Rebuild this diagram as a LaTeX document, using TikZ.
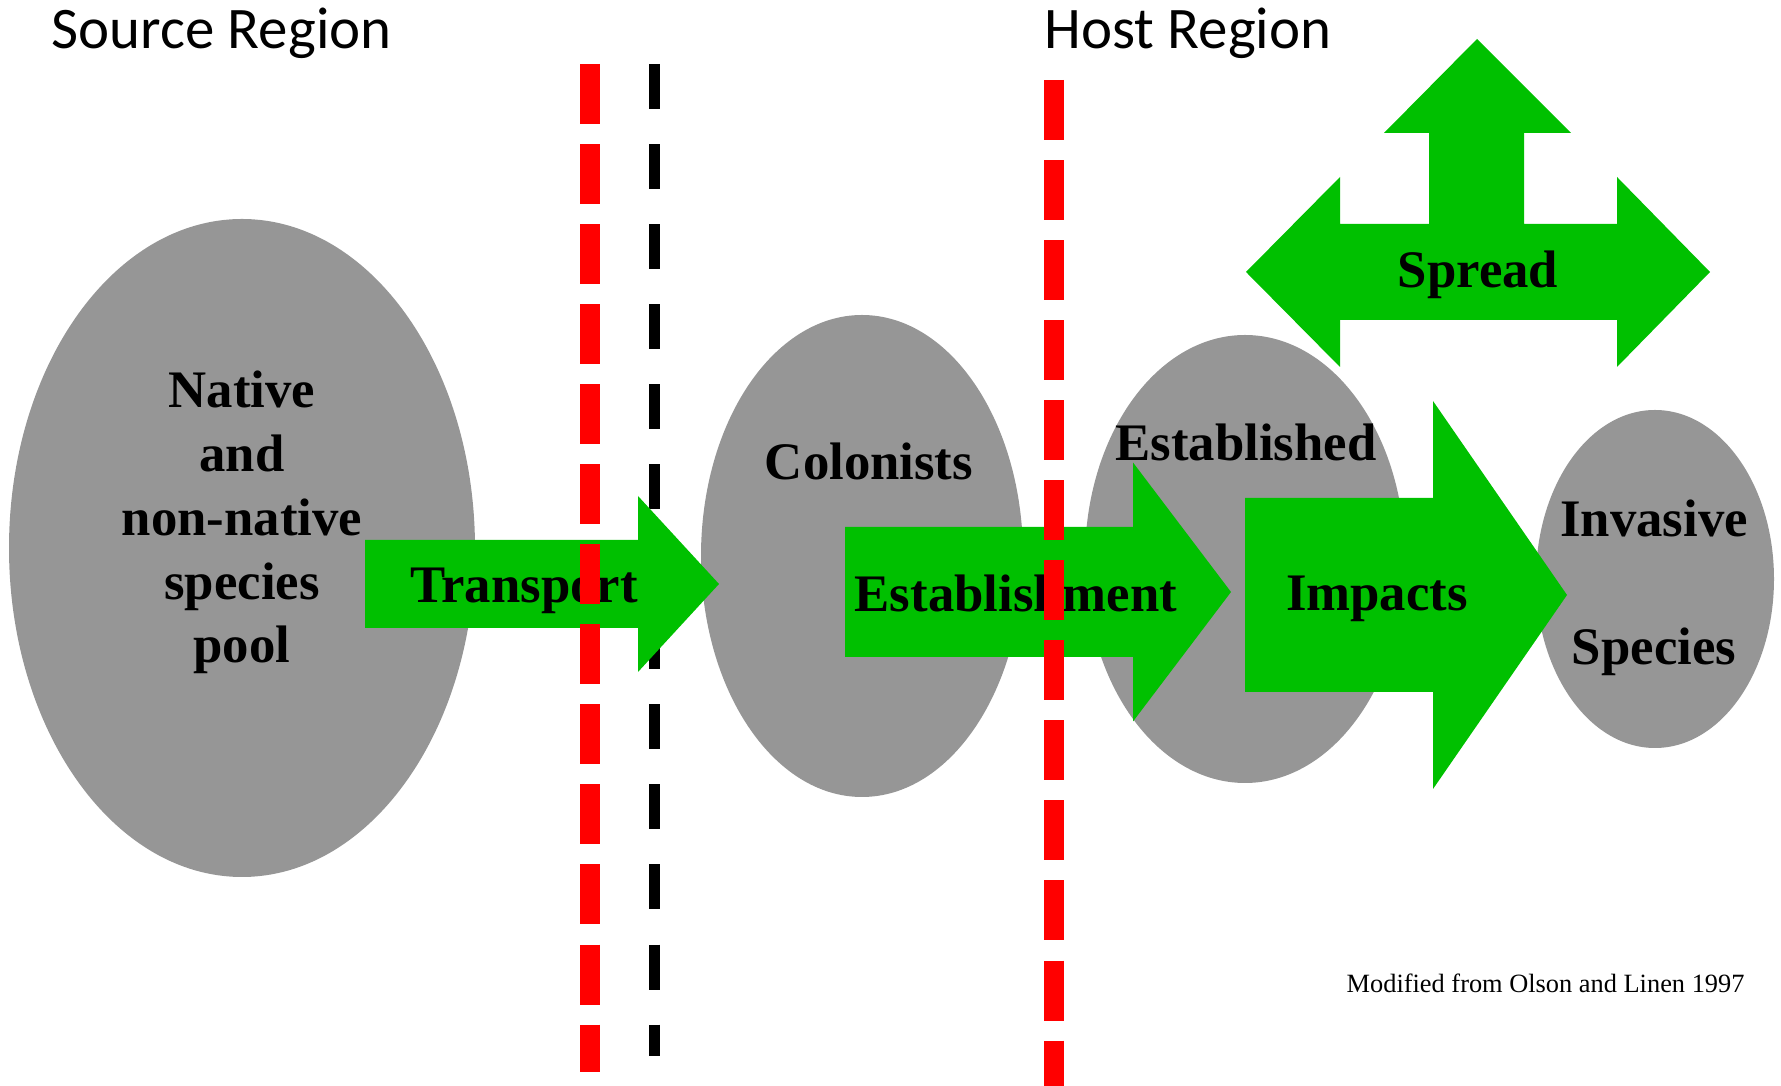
\documentclass[tikz,border=0pt]{standalone}
\usepackage{fontspec}
\setmainfont{Liberation Serif}
\newfontfamily\calibri{Carlito}
\definecolor{poolgray}{RGB}{150,150,150}
\definecolor{stagegreen}{RGB}{0,192,0}
\definecolor{barred}{RGB}{255,0,0}
\tikzset{
	stagetext/.style={font=\bfseries\fontsize{15}{18}\selectfont, anchor=base, inner sep=0pt},
	region/.style={font=\calibri\fontsize{16.75}{20}\selectfont, anchor=base west, inner sep=0pt},
	border/.style={line width=0.2cm, barred, dash pattern=on 0.6cm off 0.2cm},
}
\begin{document}
\begin{tikzpicture}[x=0.01cm, y=-0.01cm, line join=miter]
			\useasboundingbox (0,0) rectangle (1781,1086);
			\path
			(242,548) coordinate (P)
			(862,556) coordinate (C)
			(1245,559) coordinate (E)
			(1655,579) coordinate (I);
			\foreach \c/\rx/\ry in {P/233/329, C/161/241, E/160/224, I/119/169}
			\fill[poolgray] (\c) ellipse [x radius=\rx, y radius=\ry];
			\draw[line width=0.11cm, dash pattern=on 0.45cm off 0.35cm] (654,64) -- (654,1056);
			\foreach \a/\b/\c/\y/\h/\H in {365/638/719/584/44/88, 845/1133/1231/592/65/129.5, 1245/1433/1567/595/97/194}
			\fill[stagegreen] (\a,\y-\h) -- (\b,\y-\h) -- (\b,\y-\H) -- (\c,\y) -- (\b,\y+\H) -- (\b,\y+\h) -- (\a,\y+\h) -- cycle;
			\fill[stagegreen] (1246,272) -- (1340,177) -- (1340,224) -- (1429,224) -- (1429,133) -- (1384,133) -- (1477,39)
			-- (1571,133) -- (1524,133) -- (1524,224) -- (1617,224) -- (1617,177) -- (1710,272) -- (1617,367)
			-- (1617,320) -- (1340,320) -- (1340,367) -- cycle;
			\node[region] (src) at (51,49) {Source Region};
			\node[region] (host) at (1044,49) {Host Region};
			\foreach \t [count=\i] in {Native, and, non-native, species, pool}
			\node[stagetext] (pool\i) at (242,{408+63.75*(\i-1)}) {\t};
			\node[stagetext] (colonists) at (869,480) {Colonists};
			\node[stagetext] (established) at (1246,461) {Established};
			\node[stagetext] (invasive) at (1654,537) {Invasive};
			\node[stagetext] (species) at (1654,665) {Species};
			\node[stagetext] (transport) at (524,603) {Transport};
			\node[stagetext] (establishment) at (1016,612) {Establishment};
			\node[stagetext] (impacts) at (1377,611) {Impacts};
			\node[stagetext] (spread) at (1478,288) {Spread};
			\draw[border] (590,64) -- (590,1072);
			\draw[border] (1054,80) -- (1054,1086);
			\node[font=\fontsize{7.5}{9}\selectfont, anchor=base west, inner sep=0pt] (source) at (1346,993) {Modified from Olson and Linen 1997};
		\end{tikzpicture}
\end{document}
